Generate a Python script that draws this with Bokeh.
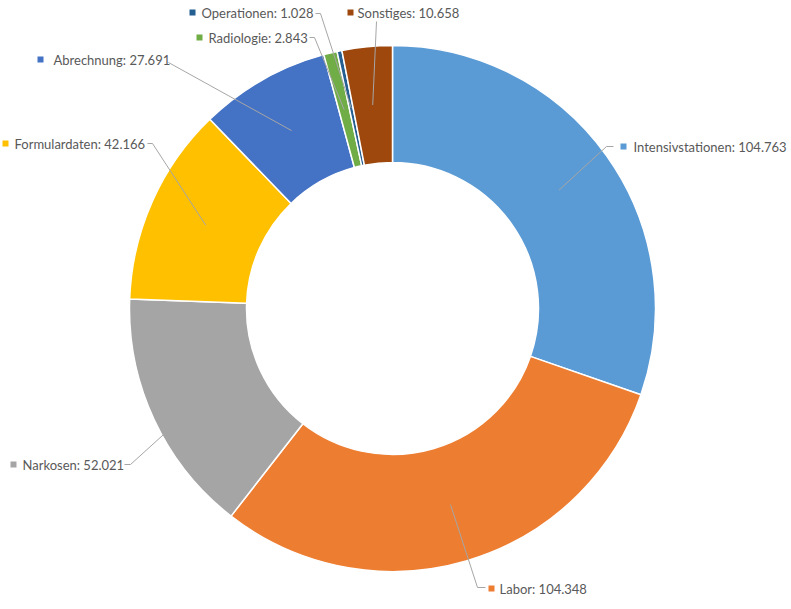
import math
from bokeh.plotting import figure
from bokeh.models import Range1d, ColumnDataSource
from bokeh.core.properties import value
from bokeh.embed import file_html
from bokeh.resources import INLINE

# ---- data ----
categories = ["Intensivstationen", "Labor", "Narkosen", "Formulardaten",
              "Abrechnung", "Radiologie", "Operationen", "Sonstiges"]
values = [104.763, 104.348, 52.021, 42.166, 27.691, 2.843, 1.028, 10.658]
value_labels = ["104.763", "104.348", "52.021", "42.166", "27.691", "2.843", "1.028", "10.658"]
colors = ["#5B9BD5", "#ED7D31", "#A5A5A5", "#FFC000", "#4472C4", "#70AD47", "#255E91", "#9E480E"]

# ---- layout (pixel coordinates, screen y downward) ----
W, H = 791, 609
CX, CY = 392, 308
R_OUT, R_IN = 263, 146

# label layout: (square x, text x, y, leader start points near the label)
label_layout = {
    "Intensivstationen": (623, 633, 146, [(613, 146), (606, 146)]),
    "Labor":             (491, 499, 588, [(485, 587), (477, 587)]),
    "Narkosen":          (13, 22, 464, [(124, 464), (130, 464)]),
    "Formulardaten":     (5, 14, 143, [(147, 143), (152, 143)]),
    "Abrechnung":        (40, 53, 59, [(168, 62)]),
    "Radiologie":        (199, 208, 37, [(309, 37), (314, 37)]),
    "Operationen":       (192, 201, 12, [(315, 13), (320, 13)]),
    "Sonstiges":         (350, 357, 12, [(376, 21)]),
}

def fy(y):
    return H - y

total = sum(values)
starts, ends, mids = [], [], []
cum = 0.0
for v in values:
    a0 = math.pi / 2 - 2 * math.pi * cum / total
    cum += v
    a1 = math.pi / 2 - 2 * math.pi * cum / total
    starts.append(a0)
    ends.append(a1)
    mids.append((a0 + a1) / 2)

p = figure(width=W, height=H, output_backend="svg", toolbar_location=None,
           x_range=Range1d(0, W), y_range=Range1d(0, H), min_border=0)
p.axis.visible = False
p.grid.visible = False
p.outline_line_color = None
p.background_fill_color = "white"
p.border_fill_color = "white"

src = ColumnDataSource(dict(start=starts, end=ends, color=colors))
p.annular_wedge(x=CX, y=fy(CY), inner_radius=R_IN, outer_radius=R_OUT,
                start_angle="start", end_angle="end", direction="clock",
                fill_color="color", line_color="white", line_width=1.5, source=src)

# leader lines
r_mid = (R_IN + R_OUT) / 2
xs, ys = [], []
for cat, m in zip(categories, mids):
    px = CX + r_mid * math.cos(m)
    py = fy(CY) + r_mid * math.sin(m)
    pts = label_layout[cat][3]
    xs.append([pt[0] for pt in pts] + [px])
    ys.append([fy(pt[1]) for pt in pts] + [py])
p.multi_line(xs=xs, ys=ys, line_color="#A6A6A6", line_width=1)

# labels
sq_x, sq_y, tx, ty, texts = [], [], [], [], []
for cat, vl in zip(categories, value_labels):
    sx, txx, yy, _ = label_layout[cat]
    sq_x.append(sx)
    sq_y.append(fy(yy))
    tx.append(txx)
    ty.append(fy(yy))
    texts.append(f"{cat}: {vl}")
p.scatter(x=sq_x, y=sq_y, marker="square", size=6, fill_color=colors, line_color=None)
p.text(x=tx, y=ty, text=texts, text_font=value("Lato"), text_font_size="13px",
       text_color="#595959", text_baseline="middle", text_align="left")

open("out.html", "w").write(file_html(p, INLINE))
